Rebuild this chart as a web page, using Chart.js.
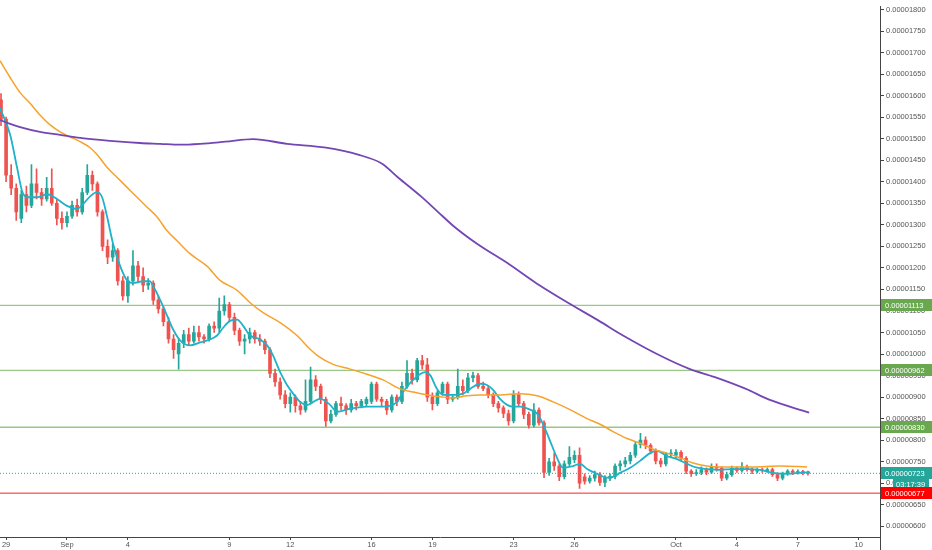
<!DOCTYPE html>
<html>
<head>
<meta charset="utf-8">
<script src="https://cdn.jsdelivr.net/npm/chart.js@4.4.1/dist/chart.umd.min.js"></script>
<style>
  html, body { margin: 0; padding: 0; background: #fff; }
  #wrap { width: 932px; height: 550px; }
</style>
</head>
<body>
<div id="wrap"><canvas id="chart" width="932" height="550"></canvas></div>
<script>
// prices in units of 1e-8, x in days from 29 Aug 00:00
// 6h candles, first one at 28 Aug 18:00
const candleStart = -0.25;
const candleStep = 0.25;

const opens = [
  1590,1545,1415,1385,1315,1370,1345,1395,1375,1360,
  1385,1350,1315,1305,1320,1345,1330,1375,1415,1395,
  1330,1250,1225,1240,1170,1135,1170,1205,1180,1160,
  1165,1125,1105,1075,1035,1000,1025,1045,1030,1050,
  1040,1035,1065,1060,1100,1115,1085,1055,1030,1035,
  1050,1035,1030,1010,955,935,905,885,900,880,
  870,890,940,925,895,845,860,885,880,870,
  885,880,885,890,930,895,890,870,900,890,
  925,955,940,985,975,900,885,910,930,895,
  900,925,915,945,950,925,920,905,885,875,
  862,845,905,885,860,835,870,840,725,750,
  740,715,745,755,765,715,705,712,720,702,
  712,716,740,745,752,765,790,800,788,775,
  752,745,768,765,772,758,728,722,725,732,
  726,738,735,712,720,735,730,738,733,728,
  731,729,732,720,712,722,728,725,727,724
];
const closes = [
  1545,1415,1385,1330,1370,1345,1395,1375,1360,1385,
  1350,1315,1305,1320,1345,1330,1375,1415,1395,1330,
  1250,1225,1240,1170,1135,1170,1205,1180,1160,1165,
  1125,1105,1075,1035,1010,1025,1045,1030,1050,1040,
  1035,1065,1060,1100,1115,1085,1055,1030,1035,1050,
  1035,1030,1010,955,935,905,885,900,880,870,
  890,940,925,895,845,860,885,880,870,885,
  880,890,895,930,895,890,870,900,890,925,
  955,940,985,975,900,885,910,930,895,900,
  925,915,945,950,925,920,905,885,875,862,
  845,905,885,860,835,870,840,725,750,740,
  715,745,760,765,700,705,712,720,702,712,
  716,740,745,752,765,790,800,788,775,752,
  745,768,770,772,758,728,722,725,732,726,
  738,735,712,720,735,730,738,733,728,731,
  729,732,720,712,722,728,725,727,724,723
];
const highs = [
  1605,1550,1440,1395,1380,1390,1440,1430,1385,1410,
  1430,1360,1330,1330,1355,1360,1385,1440,1425,1400,
  1335,1265,1255,1245,1180,1180,1240,1215,1200,1175,
  1170,1135,1110,1085,1045,1035,1055,1060,1065,1065,
  1045,1070,1075,1130,1135,1120,1095,1060,1045,1060,
  1055,1045,1035,1015,965,945,915,910,905,890,
  940,970,950,930,900,870,890,900,885,895,
  890,895,900,935,935,900,895,905,905,935,
  985,965,990,997,990,910,915,935,935,905,
  965,940,955,958,955,935,925,910,890,880,
  870,915,912,890,865,885,875,845,758,770,
  745,752,785,775,782,722,718,728,725,718,
  722,745,752,760,772,795,816,808,792,780,
  758,772,778,778,776,762,732,732,738,736,
  745,745,738,726,740,738,748,742,736,735,
  735,736,735,724,726,732,732,731,730,728
];
const lows = [
  1530,1400,1370,1310,1305,1330,1340,1360,1345,1355,
  1345,1300,1290,1295,1315,1320,1325,1370,1380,1320,
  1240,1210,1215,1160,1125,1120,1160,1165,1145,1150,
  1115,1095,1065,1025,990,965,1015,1020,1025,1030,
  1025,1030,1050,1050,1090,1075,1045,1020,1000,1025,
  1025,1020,1000,945,925,895,875,865,865,860,
  865,885,915,885,832,840,855,870,860,865,
  870,875,878,885,890,880,860,865,880,885,
  920,930,935,965,890,870,880,905,885,890,
  895,905,910,935,920,915,898,878,865,852,
  835,840,878,850,828,830,835,713,718,730,
  706,710,740,748,688,698,700,705,695,692,
  706,710,730,738,745,760,782,780,768,745,
  738,740,760,758,752,722,716,718,720,720,
  722,728,706,708,716,725,726,728,722,724,
  725,726,716,706,708,718,720,721,720,719
];

// moving averages
const fastDays = [-0.3,0.2,0.54,0.79,1.03,1.53,2.02,2.51,3.0,3.5,3.79,4.14,4.48,4.73,4.98,5.27,5.62,5.96,6.26,6.75,7.09,7.24,7.59,7.93,8.23,8.57,9.06,9.56,10.05,10.39,10.69,11.03,11.38,11.67,12.02,12.51,12.86,13.15,13.5,13.84,14.14,14.48,14.83,15.47,15.96,16.3,16.95,17.78,18.57,19.26,19.56,20.05,20.64,20.89,21.23,21.53,22.02,22.51,22.86,23.35,23.69,23.99,24.33,24.68,24.98,25.32,25.81,26.21,26.45,26.8,27.14,27.44,27.93,28.28,28.62,29.11,29.61,29.9,30.25,30.74,31.23,31.72,32.07,32.56,33.05,33.55,34.04,34.53,35.17,35.81,36.5,37.14,37.78,38.47,39.11,39.6];
const fastVals = [1571,1509,1433,1378,1364,1364,1371,1360,1344,1337,1348,1366,1376,1364,1318,1256,1204,1171,1165,1169,1169,1158,1126,1089,1057,1032,1020,1027,1034,1043,1061,1077,1080,1066,1043,1034,1020,997,958,928,908,889,882,896,882,866,873,878,878,889,912,940,958,951,919,905,905,908,919,931,928,917,896,882,878,878,871,859,837,798,759,736,740,745,733,722,713,715,724,736,752,770,775,763,756,745,736,733,731,733,733,731,724,722,724,726];

const midDays = [-0.3,0.2,0.69,1.18,1.67,2.17,2.66,3.15,3.65,4.14,4.48,4.98,5.47,5.96,6.45,6.95,7.44,7.93,8.42,9.06,9.9,10.54,11.38,12.02,12.66,13.5,14.33,14.98,15.32,16.11,16.95,17.78,18.57,19.41,20.05,20.74,21.38,22.02,22.71,23.35,24.33,25.32,26.16,26.95,27.78,28.62,29.26,29.9,30.59,31.23,31.87,32.56,33.2,33.84,34.53,35.17,36.8,38.13,39.46];
const midVals = [1681,1642,1607,1582,1555,1532,1516,1504,1493,1479,1463,1433,1410,1387,1364,1341,1318,1286,1263,1233,1204,1171,1148,1119,1096,1073,1043,1011,997,976,965,953,940,919,912,905,901,898,903,905,905,908,903,889,871,850,837,820,804,793,779,770,759,747,740,738,738,740,738];

const slowDays = [-0.3,0.69,1.67,2.66,3.65,4.63,5.62,6.6,7.59,8.57,9.56,10.8,12.17,13.84,15.76,17.34,18.52,19.31,20.44,21.23,22.02,23.2,24.73,26.1,27.68,29.21,30.39,32.36,33.69,34.88,36.45,37.59,39.56];
const slowVals = [1543,1527,1516,1509,1502,1497,1493,1490,1488,1486,1488,1493,1499,1488,1479,1463,1442,1410,1366,1332,1298,1256,1210,1165,1119,1077,1043,993,965,947,919,894,864];

const resistLevels = [1113, 962, 830];
const lastPrice = 723;
const supportLevel = 677;
const countdown = "03:17:39";

const xTickDays = [0, 3, 6, 11, 14, 18, 21, 25, 28, 33, 36, 39, 42];
const xTickLabels = ["29", "Sep", "4", "9", "12", "16", "19", "23", "26", "Oct", "4", "7", "10"];
const yTickVals = [600,650,700,750,800,850,900,950,1000,1050,1100,1150,1200,1250,1300,1350,1400,1450,1500,1550,1600,1650,1700,1750,1800];

const X_MIN = -0.3, X_MAX = 43.05;
const Y_MIN = 575.2, Y_MAX = 1806.9;

const UP = "#26a69a";
const DOWN = "#ef5350";
const FONT = { family: "'Liberation Sans', Arial, sans-serif", size: 7.5 };

function fmt(v) {
  return (v / 1e8).toFixed(8);
}

const candleDays = opens.map((o, i) => candleStart + i * candleStep);
const candleColors = opens.map((o, i) => (closes[i] >= o ? UP : DOWN));

function levelLine(v, color, dash, width) {
  return {
    type: "line",
    data: [{ x: X_MIN, y: v }, { x: X_MAX, y: v }],
    borderColor: color,
    borderWidth: width,
    borderDash: dash,
    pointRadius: 0,
    order: 5
  };
}

function maLine(days, vals, color, width) {
  return {
    type: "line",
    data: days.map((d, i) => ({ x: d, y: vals[i] })),
    borderColor: color,
    borderWidth: width,
    pointRadius: 0,
    cubicInterpolationMode: "monotone",
    order: 1
  };
}

// price tags on the right axis
const priceTags = {
  id: "priceTags",
  afterDraw(chart) {
    const ctx = chart.ctx;
    const ys = chart.scales.y;
    const left = chart.chartArea.right;
    ctx.save();
    ctx.font = "7.5px 'Liberation Sans', Arial, sans-serif";
    ctx.textBaseline = "middle";

    function tag(v, bg, x0, x1, text) {
      const py = ys.getPixelForValue(v);
      ctx.fillStyle = bg;
      ctx.fillRect(x0, Math.round(py) - 6, x1 - x0, 12);
      ctx.fillStyle = "#fff";
      ctx.fillText(text, x0 + 4, py + 0.5);
    }

    resistLevels.forEach(v => tag(v, "#6aa84f", left + 1, 932, fmt(v)));
    tag(lastPrice, "#26a69a", left + 1, 932, fmt(lastPrice));
    const cy = ys.getPixelForValue(lastPrice) + 11;
    ctx.fillStyle = "#26a69a";
    ctx.fillRect(left + 13, Math.round(cy) - 6, 36, 12);
    ctx.fillStyle = "#fff";
    ctx.fillText(countdown, left + 16, cy + 0.5);
    tag(supportLevel, "#ff0000", left + 1, 932, fmt(supportLevel));

    // axis line runs on to the bottom edge
    ctx.strokeStyle = "#444";
    ctx.lineWidth = 1;
    ctx.beginPath();
    ctx.moveTo(left + 0.5, chart.chartArea.bottom);
    ctx.lineTo(left + 0.5, chart.height);
    ctx.stroke();
    ctx.restore();
  }
};

new Chart(document.getElementById("chart"), {
  type: "bar",
  data: {
    datasets: [
      ...resistLevels.map(v => levelLine(v, "rgba(120,180,95,0.75)", [], 1.3)),
      levelLine(lastPrice, "#26a69a", [1, 2], 1),
      levelLine(supportLevel, "#ff2020", [], 1),
      {
        type: "bar",
        data: candleDays.map((d, i) => ({ x: d, y: [lows[i], highs[i]] })),
        backgroundColor: candleColors,
        barThickness: 1,
        grouped: false,
        order: 3
      },
      {
        type: "bar",
        data: candleDays.map((d, i) => ({ x: d, y: [opens[i], closes[i]] })),
        backgroundColor: candleColors,
        barThickness: 3,
        minBarLength: 1,
        grouped: false,
        order: 2
      },
      maLine(slowDays, slowVals, "#7446b4", 1.8),
      maLine(midDays, midVals, "#f7a22c", 1.5),
      maLine(fastDays, fastVals, "#1fb2c8", 1.8)
    ]
  },
  options: {
    responsive: false,
    animation: false,
    layout: { padding: 0 },
    plugins: { legend: { display: false }, tooltip: { enabled: false } },
    scales: {
      x: {
        type: "linear",
        min: X_MIN,
        max: X_MAX,
        offset: false,
        afterBuildTicks: axis => { axis.ticks = xTickDays.map(v => ({ value: v })); },
        afterFit: axis => { axis.height = 13; },
        grid: { drawOnChartArea: false, drawTicks: true, tickLength: 3, color: "#444", offset: false },
        border: { display: true, color: "#444" },
        ticks: {
          autoSkip: false,
          maxRotation: 0,
          padding: 0,
          color: "#555",
          font: FONT,
          callback: (v, i) => xTickLabels[i]
        }
      },
      y: {
        type: "linear",
        position: "right",
        min: Y_MIN,
        max: Y_MAX,
        afterBuildTicks: axis => { axis.ticks = yTickVals.map(v => ({ value: v })); },
        afterFit: axis => { axis.width = 52; },
        grid: { drawOnChartArea: false, drawTicks: true, tickLength: 4, color: "#444" },
        border: { display: true, color: "#444" },
        ticks: {
          autoSkip: false,
          padding: 2,
          color: "#555",
          font: FONT,
          callback: v => fmt(v)
        }
      }
    }
  },
  plugins: [priceTags]
});
</script>
</body>
</html>
